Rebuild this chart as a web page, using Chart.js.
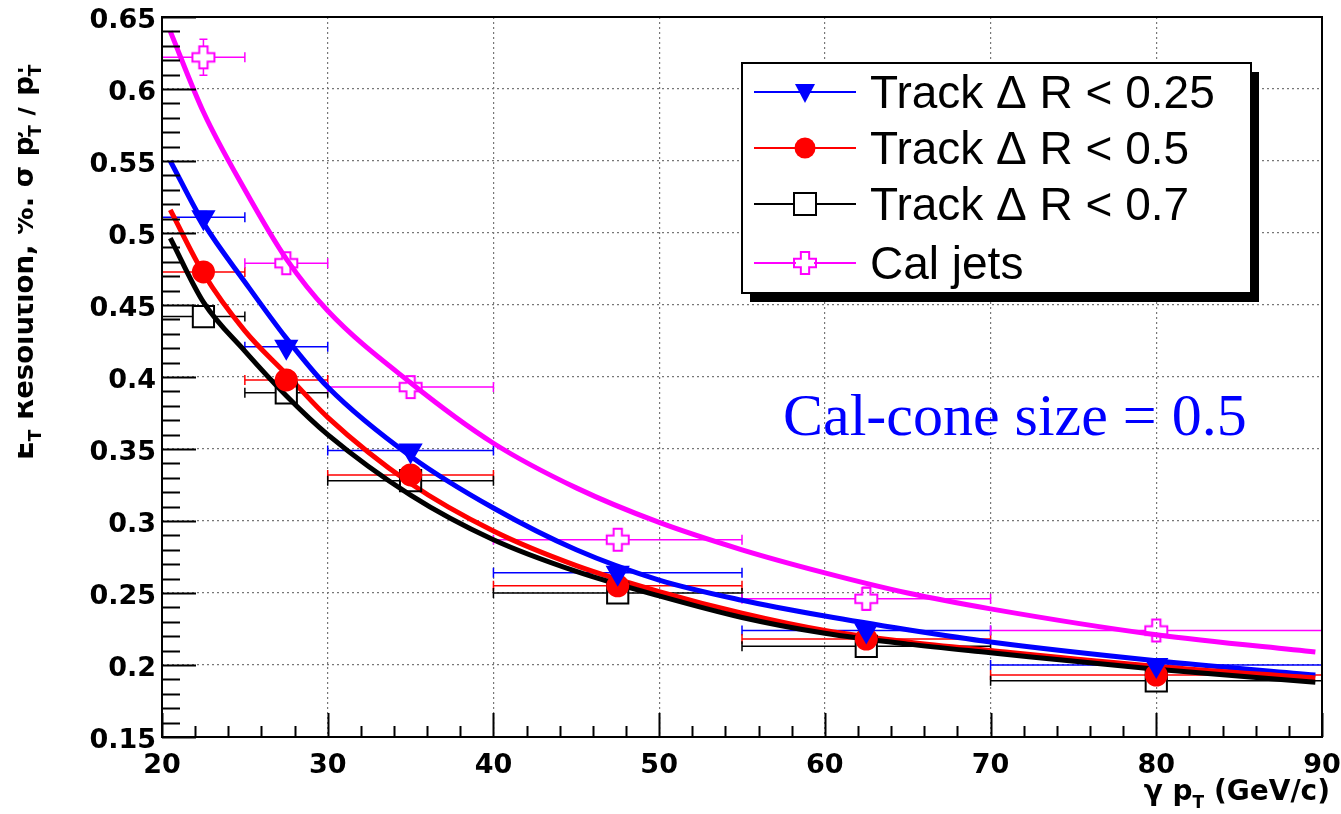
<!DOCTYPE html>
<html>
<head>
<meta charset="utf-8">
<script src="https://cdn.jsdelivr.net/npm/chart.js@4.4.1/dist/chart.umd.min.js"></script>
<style>
  html, body { margin: 0; padding: 0; background: #fff; }
  canvas { display: block; }
</style>
</head>
<body>
<canvas id="resChart" width="1341" height="814"></canvas>
<script>
// pT bins (centre and half width)
const binCenters = [22.5, 27.5, 35, 47.5, 62.5, 80];
const binHalfWidths = [2.5, 2.5, 5, 7.5, 7.5, 10];

// measured resolution per bin
const track025 = [0.511, 0.421, 0.349, 0.264, 0.224, 0.200];
const track025Err = [0.004, 0.003, 0.003, 0.003, 0.003, 0.003];
const track05 = [0.473, 0.398, 0.332, 0.255, 0.218, 0.193];
const track05Err = [0.006, 0.004, 0.004, 0.003, 0.003, 0.003];
const track07 = [0.442, 0.389, 0.328, 0.250, 0.213, 0.189];
const track07Err = [0.004, 0.003, 0.003, 0.003, 0.003, 0.003];
const calJets = [0.622, 0.479, 0.393, 0.287, 0.246, 0.224];
const calJetsErr = [0.0125, 0.005, 0.005, 0.005, 0.008, 0.006];

// fit curves
const fitX = [20.5, 22.5, 25, 27.5, 30, 35, 40, 45, 50, 55, 60, 65, 70, 80, 89.6];
const fit025 = [0.550, 0.507, 0.466, 0.427, 0.393, 0.345, 0.309, 0.280, 0.259, 0.245, 0.234, 0.2245, 0.216, 0.203, 0.193];
const fit05 = [0.516, 0.472, 0.432, 0.402, 0.372, 0.326, 0.293, 0.269, 0.251, 0.236, 0.224, 0.216, 0.210, 0.199, 0.191];
const fit07 = [0.4965, 0.452, 0.418, 0.387, 0.360, 0.318, 0.287, 0.265, 0.248, 0.233, 0.222, 0.2145, 0.2085, 0.197, 0.188];
const fitCal = [0.640, 0.584, 0.530, 0.482, 0.446, 0.396, 0.354, 0.323, 0.299, 0.280, 0.264, 0.250, 0.239, 0.221, 0.209];

// axes
const xTickValues = [20, 30, 40, 50, 60, 70, 80, 90];
const yTickValues = [0.15, 0.2, 0.25, 0.3, 0.35, 0.4, 0.45, 0.5, 0.55, 0.6, 0.65];
const xMinorStep = 2;
const yMinorStep = 0.01;

const legendLabels = ["Track \u0394 R < 0.25", "Track \u0394 R < 0.5", "Track \u0394 R < 0.7", "Cal jets"];

const BLUE = "#0000ff";
const RED = "#ff0000";
const BLACK = "#000000";
const MAGENTA = "#ff00ff";
const AXIS_FONT = "DejaVu Sans";

// ROOT style open cross marker
function makeOpenCross(color, size) {
  const c = document.createElement("canvas");
  c.width = size + 4;
  c.height = size + 4;
  const g = c.getContext("2d");
  const h = size / 2, a = size / 6 + 0.5, m = c.width / 2;
  const pts = [[-a, -h], [a, -h], [a, -a], [h, -a], [h, a], [a, a], [a, h], [-a, h], [-a, a], [-h, a], [-h, -a], [-a, -a]];
  g.beginPath();
  pts.forEach(([px, py], i) => (i ? g.lineTo(m + px, m + py) : g.moveTo(m + px, m + py)));
  g.closePath();
  g.strokeStyle = color;
  g.lineWidth = 2;
  g.stroke();
  return c;
}
const crossImg = makeOpenCross(MAGENTA, 22);

function points(ys) {
  return binCenters.map((x, i) => ({ x: x, y: ys[i] }));
}
function curve(ys) {
  return fitX.map((x, i) => ({ x: x, y: ys[i] }));
}

function pointSet(label, ys, yErr, color, style, radius, fill, gap, order) {
  return {
    label: label,
    data: points(ys),
    xErr: binHalfWidths,
    yErr: yErr,
    errColor: color,
    errGap: gap, // open markers: no error line inside
    showLine: false,
    pointStyle: style,
    pointRadius: radius,
    pointBorderWidth: 2,
    pointBorderColor: color,
    pointBackgroundColor: fill,
    pointRotation: style === "triangle" ? 180 : 0,
    order: order,
  };
}

function curveSet(ys, color, order) {
  return {
    data: curve(ys),
    showLine: true,
    borderColor: color,
    borderWidth: 5,
    pointRadius: 0,
    cubicInterpolationMode: "monotone",
    order: order,
  };
}

// error bars under the markers
const errorBars = {
  id: "errorBars",
  beforeDatasetsDraw(chart) {
    const ctx = chart.ctx;
    const xs = chart.scales.x, ys = chart.scales.y;
    ctx.save();
    chart.data.datasets.forEach((ds) => {
      if (!ds.xErr) return;
      ctx.strokeStyle = ds.errColor;
      ctx.lineWidth = 1.5;
      const g = ds.errGap;
      ds.data.forEach((p, i) => {
        const x0 = xs.getPixelForValue(p.x - ds.xErr[i]);
        const x1 = xs.getPixelForValue(p.x + ds.xErr[i]);
        const xc = xs.getPixelForValue(p.x);
        const yc = ys.getPixelForValue(p.y);
        const y0 = ys.getPixelForValue(p.y - ds.yErr[i]);
        const y1 = ys.getPixelForValue(p.y + ds.yErr[i]);
        ctx.beginPath();
        ctx.moveTo(x0, yc); ctx.lineTo(xc - g, yc);
        ctx.moveTo(xc + g, yc); ctx.lineTo(x1, yc);
        ctx.moveTo(x0, yc - 5); ctx.lineTo(x0, yc + 5);
        ctx.moveTo(x1, yc - 5); ctx.lineTo(x1, yc + 5);
        if (y0 - yc > g) {
          ctx.moveTo(xc, y0); ctx.lineTo(xc, yc + g);
          ctx.moveTo(xc, yc - g); ctx.lineTo(xc, y1);
          ctx.moveTo(xc - 4, y0); ctx.lineTo(xc + 4, y0);
          ctx.moveTo(xc - 4, y1); ctx.lineTo(xc + 4, y1);
        }
        ctx.stroke();
      });
    });
    ctx.restore();
  },
};

// frame with ROOT style inner ticks
const frameAndTicks = {
  id: "frameAndTicks",
  afterDatasetsDraw(chart) {
    const ctx = chart.ctx;
    const a = chart.chartArea;
    const xs = chart.scales.x, ys = chart.scales.y;
    ctx.save();
    ctx.strokeStyle = "#000";
    ctx.lineWidth = 2;
    ctx.beginPath();
    for (let v = xs.min; v <= xs.max + 1e-9; v += xMinorStep) {
      const px = Math.round(xs.getPixelForValue(v)) + 0.5;
      const major = xTickValues.some((t) => Math.abs(t - v) < 1e-6);
      ctx.moveTo(px, a.bottom);
      ctx.lineTo(px, a.bottom - (major ? 24 : 11));
    }
    for (let v = ys.min; v <= ys.max + 1e-9; v += yMinorStep) {
      const py = Math.round(ys.getPixelForValue(v)) + 0.5;
      const major = yTickValues.some((t) => Math.abs(t - v) < 1e-6);
      ctx.moveTo(a.left, py);
      ctx.lineTo(a.left + (major ? 34 : 18), py);
    }
    ctx.stroke();
    ctx.strokeRect(a.left, a.top, a.right - a.left, a.bottom - a.top);
    ctx.restore();
  },
};

// text with ROOT like sub/superscripts: parts = [{t, sub, sup}]
function richWidth(ctx, parts, size) {
  let w = 0;
  parts.forEach((p) => {
    ctx.font = "bold " + size + "px " + AXIS_FONT;
    w += ctx.measureText(p.t).width;
    ctx.font = "bold " + Math.round(size * 0.6) + "px " + AXIS_FONT;
    w += Math.max(p.sub ? ctx.measureText(p.sub).width : 0, p.sup ? ctx.measureText(p.sup).width : 0);
  });
  return w;
}
function drawRich(ctx, parts, size, x, y) {
  parts.forEach((p) => {
    ctx.font = "bold " + size + "px " + AXIS_FONT;
    ctx.fillText(p.t, x, y);
    x += ctx.measureText(p.t).width;
    ctx.font = "bold " + Math.round(size * 0.6) + "px " + AXIS_FONT;
    let w = 0;
    if (p.sub) { ctx.fillText(p.sub, x, y + size * 0.3); w = ctx.measureText(p.sub).width; }
    if (p.sup) { ctx.fillText(p.sup, x, y - size * 0.5); w = Math.max(w, ctx.measureText(p.sup).width); }
    x += w;
  });
}

const yTitleParts = [
  { t: "E", sub: "T" },
  { t: " Resolution, %. \u03c3 p", sub: "T", sup: "j" },
  { t: " / p", sub: "T", sup: "\u03b3" },
];
const xTitleParts = [
  { t: "\u03b3 p", sub: "T" },
  { t: " (GeV/c)" },
];

const annotations = {
  id: "annotations",
  afterDraw(chart) {
    const ctx = chart.ctx;
    ctx.save();
    ctx.fillStyle = "#000";
    ctx.textBaseline = "alphabetic";
    ctx.textAlign = "left";

    // y title, rotated; the original is cut at the left edge
    ctx.save();
    ctx.beginPath();
    ctx.rect(18, 0, 200, 814);
    ctx.clip();
    ctx.translate(33, 460);
    ctx.rotate(-Math.PI / 2);
    drawRich(ctx, yTitleParts, 27.5, 0, 0);
    ctx.restore();

    // x title, right aligned
    const xw = richWidth(ctx, xTitleParts, 28);
    drawRich(ctx, xTitleParts, 28, 1330 - xw, 800);

    // cone size note
    ctx.fillStyle = BLUE;
    ctx.font = '60px "Liberation Serif"';
    ctx.fillText("Cal-cone size = 0.5", 783, 435);

    // legend box with shadow
    const bx = 742, by = 63, bw = 509, bh = 230;
    ctx.fillStyle = "#000";
    ctx.fillRect(bx + 8, by + 9, bw, bh);
    ctx.fillStyle = "#fff";
    ctx.fillRect(bx, by, bw, bh);
    ctx.strokeStyle = "#000";
    ctx.lineWidth = 2;
    ctx.strokeRect(bx, by, bw, bh);

    const rows = [92, 148, 204, 263];
    const colors = [BLUE, RED, BLACK, MAGENTA];
    rows.forEach((ry, i) => {
      ctx.strokeStyle = colors[i];
      ctx.lineWidth = 2;
      ctx.beginPath();
      ctx.moveTo(754, ry);
      ctx.lineTo(856, ry);
      ctx.stroke();
      const mx = 805;
      ctx.fillStyle = colors[i];
      if (i === 0) {
        ctx.beginPath();
        ctx.moveTo(mx - 10, ry - 8);
        ctx.lineTo(mx + 10, ry - 8);
        ctx.lineTo(mx, ry + 11);
        ctx.closePath();
        ctx.fill();
      } else if (i === 1) {
        ctx.beginPath();
        ctx.arc(mx, ry, 10.5, 0, Math.PI * 2);
        ctx.fill();
      } else if (i === 2) {
        ctx.fillStyle = "#fff";
        ctx.fillRect(mx - 11, ry - 11, 22, 22);
        ctx.lineWidth = 2;
        ctx.strokeRect(mx - 11, ry - 11, 22, 22);
      } else {
        ctx.fillStyle = "#fff";
        ctx.fillRect(mx - 9, ry - 9, 18, 18);
        ctx.drawImage(crossImg, mx - crossImg.width / 2, ry - crossImg.height / 2);
      }
      ctx.fillStyle = "#000";
      ctx.font = '46px "Liberation Sans"';
      ctx.fillText(legendLabels[i], 870, ry + 16);
    });
    ctx.restore();
  },
};

const tickFont = { family: AXIS_FONT, weight: "bold", size: 27 };
const gridOpts = { color: "#777", lineWidth: 1.2, drawTicks: false };

new Chart(document.getElementById("resChart"), {
  type: "scatter",
  data: {
    datasets: [
      pointSet(legendLabels[0], track025, track025Err, BLUE, "triangle", 12, BLUE, 0, 1),
      pointSet(legendLabels[1], track05, track05Err, RED, "circle", 10.5, RED, 0, 2),
      pointSet(legendLabels[2], track07, track07Err, BLACK, "rect", 15, "rgba(0,0,0,0)", 11, 3),
      pointSet(legendLabels[3], calJets, calJetsErr, MAGENTA, crossImg, 11, "rgba(0,0,0,0)", 11, 4),
      curveSet(fit07, BLACK, 5),
      curveSet(fit05, RED, 6),
      curveSet(fit025, BLUE, 7),
      curveSet(fitCal, MAGENTA, 8),
    ],
  },
  options: {
    responsive: false,
    animation: false,
    devicePixelRatio: 1,
    layout: { padding: { top: 16, right: 19, left: 0, bottom: 0 } },
    plugins: { legend: { display: false }, tooltip: { enabled: false } },
    scales: {
      x: {
        type: "linear",
        min: 20,
        max: 90,
        afterFit: (s) => { s.height = 77; s.paddingLeft = 0; s.paddingRight = 0; },
        afterBuildTicks: (s) => { s.ticks = xTickValues.map((v) => ({ value: v })); },
        ticks: { font: tickFont, color: "#000", padding: 13, maxRotation: 0, autoSkip: false },
        grid: gridOpts,
        border: { display: false, dash: [2, 3] },
      },
      y: {
        type: "linear",
        min: 0.15,
        max: 0.65,
        afterFit: (s) => { s.width = 162; s.paddingTop = 0; s.paddingBottom = 0; },
        afterBuildTicks: (s) => { s.ticks = yTickValues.map((v) => ({ value: v })); },
        ticks: {
          font: tickFont,
          color: "#000",
          padding: 6,
          labelOffset: 4,
          autoSkip: false,
          callback: (v) => String(+v.toFixed(2)),
        },
        grid: gridOpts,
        border: { display: false, dash: [2, 3] },
      },
    },
  },
  plugins: [errorBars, frameAndTicks, annotations],
});
</script>
</body>
</html>
